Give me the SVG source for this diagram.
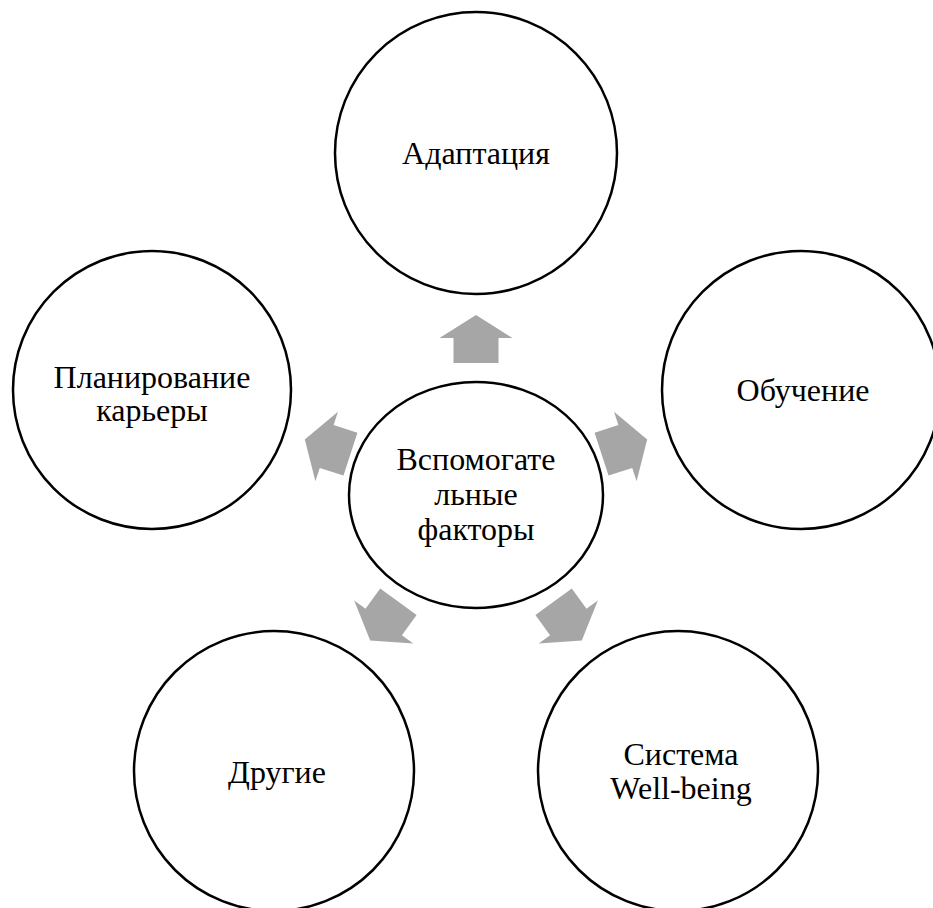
<svg xmlns="http://www.w3.org/2000/svg" width="933" height="908" viewBox="0 0 933 908">
<style>
.n{fill:#fff;stroke:#000;stroke-width:2.5}
.t{font-family:"Liberation Serif","Times New Roman",serif;font-size:32px;fill:#000;text-anchor:middle}
.a{fill:#a6a6a6;stroke:none}
</style>
<defs>
<polygon id="arr" points="0,-180 36.5,-157 22.5,-157 22.5,-132 -22.5,-132 -22.5,-157 -36.5,-157"/>
</defs>
<rect width="933" height="908" fill="#fff"/>
<g id="connectors" class="a" transform="translate(476,495)">
<use href="#arr"/>
<use href="#arr" transform="rotate(72)"/>
<use href="#arr" transform="rotate(144)"/>
<use href="#arr" transform="rotate(216)"/>
<use href="#arr" transform="rotate(288)"/>
</g>
<g id="center">
<ellipse class="n" cx="476" cy="495" rx="127" ry="113"/>
<text class="t" x="476" y="470">Вспомогате</text>
<text class="t" x="476" y="505">льные</text>
<text class="t" x="476" y="540">факторы</text>
</g>
<g id="adaptation">
<circle class="n" cx="476" cy="153" r="141"/>
<text class="t" x="476" y="164">Адаптация</text>
</g>
<g id="training">
<circle class="n" cx="801" cy="390" r="139"/>
<text class="t" x="803" y="401">Обучение</text>
</g>
<g id="wellbeing">
<circle class="n" cx="678" cy="771" r="140"/>
<text class="t" x="681" y="765">Система</text>
<text class="t" x="681" y="799">Well-being</text>
</g>
<g id="other">
<circle class="n" cx="274" cy="771" r="140"/>
<text class="t" x="277" y="783">Другие</text>
</g>
<g id="career">
<circle class="n" cx="152" cy="390" r="139"/>
<text class="t" x="152" y="388">Планирование</text>
<text class="t" x="152" y="421">карьеры</text>
</g>
</svg>
